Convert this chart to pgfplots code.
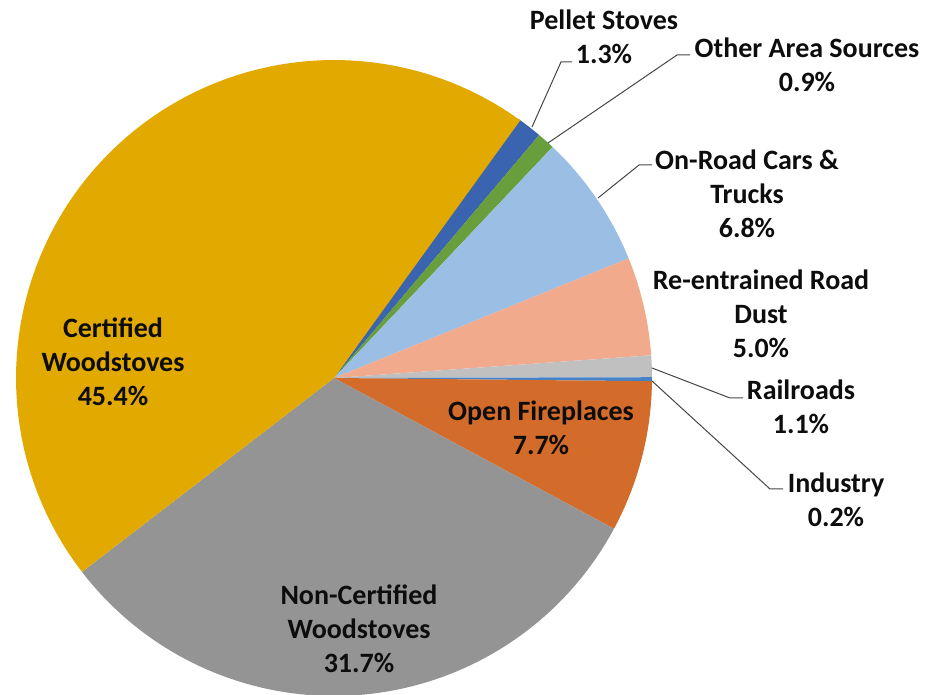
\documentclass[border=0pt]{standalone}
\usepackage{fontspec}
\setmainfont{Carlito}
\usepackage{pgfplots}
\usepackage{pgfplotstable}
\pgfplotsset{compat=1.18}
\definecolor{cCert}{RGB}{226,170,0}
\definecolor{cPellet}{RGB}{58,100,175}
\definecolor{cOther}{RGB}{104,158,60}
\definecolor{cRoad}{RGB}{155,190,228}
\definecolor{cDust}{RGB}{241,170,140}
\definecolor{cRail}{RGB}{192,192,192}
\definecolor{cInd}{RGB}{70,130,200}
\definecolor{cOpen}{RGB}{211,107,42}
\definecolor{cNon}{RGB}{148,148,148}
\definecolor{cLead}{RGB}{70,70,70}
\tikzset{lbl/.style={font=\fontsize{21}{25.5}\selectfont\bfseries, align=center, text=black!95, inner sep=0pt}}
\pgfplotstableread{
name value col
Pellet 1.3 cPellet
Other 0.9 cOther
Road 6.8 cRoad
Dust 5.0 cDust
Rail 1.1 cRail
Ind 0.2 cInd
Open 7.7 cOpen
Non 31.7 cNon
Cert 45.4 cCert
}\piedata
\begin{document}
\begin{tikzpicture}
\begin{axis}[
  hide axis, scale only axis,
  width=694.5pt, height=520.5pt,
  xmin=0, xmax=926, ymin=0, ymax=694,
  clip=false,
]
\def\cum{54.5}
\pgfplotsforeachungrouped \i in {0,...,8}{
  \pgfplotstablegetelem{\i}{value}\of\piedata \let\v\pgfplotsretval
  \pgfplotstablegetelem{\i}{col}\of\piedata \let\c\pgfplotsretval
  \pgfmathsetmacro{\a}{\cum}
  \pgfmathsetmacro{\b}{\cum-3.6*\v}
  \edef\temp{\noexpand\addplot[fill=\c, draw=none, domain=\b:\a, samples=80] ({334+318*cos(x)},{316+318*sin(x)}) -- (axis cs:334,316) -- cycle;}
  \temp
  \global\let\cum\b
}
% leader lines
\draw[cLead, line width=0.75pt] (axis cs:532,567) -- (axis cs:561,632) -- (axis cs:572,632);
\draw[cLead, line width=0.75pt] (axis cs:548,551) -- (axis cs:677,639) -- (axis cs:690,639);
\draw[cLead, line width=0.75pt] (axis cs:598,496) -- (axis cs:639,529) -- (axis cs:652,529);
\draw[cLead, line width=0.75pt] (axis cs:652,326) -- (axis cs:730,296) -- (axis cs:743,296);
\draw[cLead, line width=0.75pt] (axis cs:652,313) -- (axis cs:770,205) -- (axis cs:783,205);
% labels
\node[lbl] at (axis cs:604,657) {Pellet Stoves\\1.3\%};
\node[lbl] at (axis cs:807,629) {Other Area Sources\\0.9\%};
\node[lbl] at (axis cs:747,500) {On-Road Cars \&\\Trucks\\6.8\%};
\node[lbl] at (axis cs:761,380) {Re-entrained Road\\Dust\\5.0\%};
\node[lbl] at (axis cs:801,287) {Railroads\\1.1\%};
\node[lbl] at (axis cs:836,194) {Industry\\0.2\%};
\node[lbl] at (axis cs:541,266) {Open Fireplaces\\7.7\%};
\node[lbl] at (axis cs:113,332) {Certified\\Woodstoves\\45.4\%};
\node[lbl] at (axis cs:359,65) {Non-Certified\\Woodstoves\\31.7\%};
\coordinate (ll) at (axis cs:0,0);
\coordinate (ur) at (axis cs:926,694);
\end{axis}
\pgfresetboundingbox
\path (ll) rectangle (ur);
\end{tikzpicture}
\end{document}
